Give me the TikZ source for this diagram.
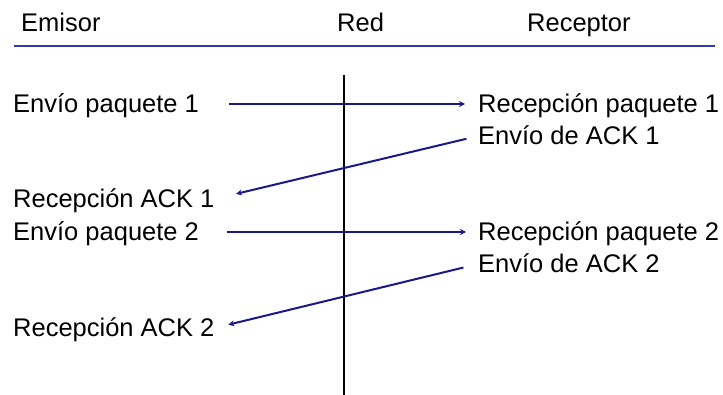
\documentclass[tikz,border=0pt]{standalone}
\usepackage{fontspec}
\setmainfont{Liberation Sans}
\usepackage{xcolor}
\usepackage{tikz}
\usetikzlibrary{arrows.meta, positioning}
\definecolor{navy}{RGB}{25,25,140}
\definecolor{rulebl}{RGB}{55,55,175}

\begin{document}
\begin{tikzpicture}[x=1pt, y=-1pt,
    lbl/.style={inner sep=0pt, anchor=base west, font=\fontsize{25.5}{30}\selectfont, text height=23pt, text depth=5pt},
    msg/.style={draw=navy, line width=2pt, -{Stealth[length=6pt, width=6pt]}}]
    \useasboundingbox (0,0) rectangle (723,395);

    % cabecera
    \node[lbl] (emisor) at (21,32) {Emisor};
    \node[lbl] (red) at (337,32) {Red};
    \node[lbl] (receptor) at (527,32) {Receptor};
    \coordinate (hl) at (14,46);
    \coordinate (hr) at (715,46);
    \draw[rulebl, line width=2.6pt] (hl) -- (hr);

    % red
    \coordinate (rtop) at (343.5,75);
    \coordinate (rbot) at (343.5,395);
    \draw[line width=2pt] (rtop) -- (rbot);

    % emisor
    \node[lbl] (env1) at (13,113) {Envío paquete 1};
    \node[lbl] (rack1) at (13,208) {Recepción ACK 1};
    \node[lbl] (env2) at (13,241) {Envío paquete 2};
    \node[lbl] (rack2) at (13,337) {Recepción ACK 2};

    % receptor
    \node[lbl] (rpaq1) at (478,113) {Recepción paquete 1};
    \node[lbl] (eack1) at (478,145) {Envío de ACK 1};
    \node[lbl] (rpaq2) at (478,241) {Recepción paquete 2};
    \node[lbl] (eack2) at (478,273) {Envío de ACK 2};

    \draw[msg, shorten <=30pt, shorten >=13pt] (env1.east) -- (rpaq1.west);
    \draw[msg, shorten <=12pt, shorten >=22pt] (eack1.west) -- (rack1.east);
    \draw[msg, shorten <=28pt, shorten >=12pt] (env2.east) -- (rpaq2.west);
    \draw[msg, shorten <=15pt, shorten >=14pt] (eack2.west) -- (rack2.east);
\end{tikzpicture}
\end{document}
